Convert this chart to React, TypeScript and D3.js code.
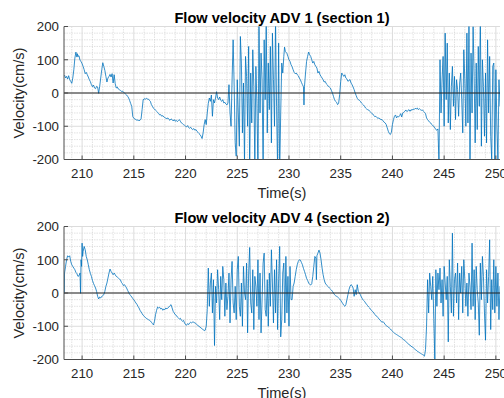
import React from 'react';
import * as d3 from 'd3';

type P = [number, number];

const xTicks = [210, 215, 220, 225, 230, 235, 240, 245, 250];
const yTicks = [-200, -100, 0, 100, 200];
const panelTitles = ['Flow velocity ADV 1 (section 1)', 'Flow velocity ADV 4 (section 2)'];
const xLabel = 'Time(s)';
const yLabel = 'Velocity(cm/s)';
const xDomain: P = [208.25, 250.4];
const yDomain: P = [-200, 200];
const noiseStep = 0.1;

// ---------- ADV 1 ----------
const adv1Smooth1: P[] = [[208.3,54],[208.4,45],[208.5,50],[208.6,42],[208.7,52],[208.8,40],[208.9,35],[209.0,29],[209.1,45],[209.2,70],[209.3,105],[209.4,123],[209.5,108],[209.55,118],[209.6,110],[209.7,112],[209.8,98],[209.9,95],[210.0,88],[210.1,80],[210.2,70],[210.3,58],[210.4,62],[210.5,55],[210.6,48],[210.7,40],[210.8,34],[210.9,25],[211.0,19],[211.1,24],[211.2,15],[211.3,13],[211.4,20],[211.5,18],[211.6,-1],[211.7,20],[211.8,45],[211.9,70],[212.0,91],[212.1,80],[212.2,68],[212.3,50],[212.4,33],[212.5,45],[212.6,50],[212.7,56],[212.8,48],[212.9,58],[213.0,30],[213.1,55],[213.2,28],[213.3,15],[213.4,18],[213.5,12],[213.6,10],[213.7,8],[213.8,5],[213.9,6],[214.0,2],[214.1,0],[214.2,-3],[214.3,-6],[214.4,-10],[214.5,-15],[214.6,-23],[214.7,-32],[214.8,-41],[214.9,-71],[215.0,-76],[215.1,-78],[215.2,-80],[215.3,-82],[215.4,-81],[215.5,-83],[215.6,-82],[215.7,-78],[215.8,-50],[215.9,-21],[216.0,-17],[216.1,-19],[216.2,-16],[216.3,-18],[216.4,-18],[216.5,-22],[216.6,-25],[216.7,-35],[216.8,-40],[216.9,-46],[217.0,-48],[217.1,-52],[217.2,-55],[217.3,-58],[217.4,-62],[217.5,-66],[217.6,-65],[217.7,-70],[217.8,-68],[217.9,-72],[218.0,-74],[218.1,-76],[218.2,-77],[218.3,-75],[218.4,-80],[218.5,-82],[218.6,-78],[218.7,-80],[218.8,-84],[218.9,-80],[219.0,-85],[219.1,-82],[219.2,-86],[219.3,-83],[219.4,-80],[219.5,-85],[219.6,-90],[219.7,-92],[219.8,-95],[219.9,-97],[220.0,-100],[220.1,-102],[220.2,-98],[220.3,-104],[220.4,-106],[220.5,-103],[220.6,-108],[220.7,-110],[220.8,-107],[220.9,-112],[221.0,-110],[221.1,-115],[221.2,-118],[221.3,-122],[221.4,-125],[221.5,-130],[221.6,-137],[221.7,-120],[221.8,-95],[221.9,-80],[222.0,-95],[222.1,-60],[222.2,-31],[222.3,-15],[222.4,-25],[222.5,-6],[222.6,-70],[222.7,-20],[222.8,-30],[222.9,-15],[223.0,4],[223.1,-15],[223.2,-20],[223.3,-12],[223.4,-22],[223.5,-25],[223.6,-20],[223.7,-30],[223.8,-28],[223.9,-33],[224.0,-36]];
const adv1Noise1Start = 224.1;
const adv1Noise1 = [-30,25,-60,-100,40,160,20,-150,-190,40,
  -60,-160,170,90,-120,30,-210,110,50,-100,
  140,-230,60,-90,130,20,-220,80,-30,-240,
  210,-60,120,40,-230,160,-20,210,-120,90,
  -50,140,-150,180,40,-100,220,-40,-230,150,
  -240,-60,90,60];
const adv1Smooth2: P[] = [[229.5,110],[229.57,138],[229.65,125],[229.8,119],[229.9,110],[230.0,100],[230.1,95],[230.2,85],[230.3,79],[230.4,70],[230.5,62],[230.6,58],[230.7,60],[230.8,55],[230.9,52],[231.0,45],[231.1,40],[231.2,32],[231.3,25],[231.4,19],[231.45,-36],[231.5,20],[231.6,60],[231.7,95],[231.8,110],[231.9,123],[232.0,115],[232.1,110],[232.2,100],[232.3,90],[232.4,95],[232.5,85],[232.6,80],[232.7,75],[232.8,60],[232.9,65],[233.0,55],[233.1,50],[233.2,45],[233.3,40],[233.4,33],[233.5,35],[233.6,28],[233.7,25],[233.8,20],[233.9,18],[234.0,15],[234.1,8],[234.2,0],[234.3,-10],[234.4,-20],[234.5,-25],[234.6,-28],[234.7,-35],[234.8,-31],[234.9,-5],[235.0,35],[235.1,60],[235.2,55],[235.3,50],[235.4,55],[235.5,45],[235.6,42],[235.7,35],[235.8,38],[235.9,40],[236.0,30],[236.1,25],[236.2,18],[236.3,10],[236.4,0],[236.5,-8],[236.6,-16],[236.7,-20],[236.8,-22],[236.9,-25],[237.0,-30],[237.1,-33],[237.2,-36],[237.3,-40],[237.4,-45],[237.5,-48],[237.6,-50],[237.7,-51],[237.8,-55],[237.9,-58],[238.0,-61],[238.1,-63],[238.2,-68],[238.3,-71],[238.4,-70],[238.5,-74],[238.6,-76],[238.7,-75],[238.8,-78],[238.9,-80],[239.0,-80],[239.1,-84],[239.2,-88],[239.3,-90],[239.4,-95],[239.5,-105],[239.6,-115],[239.7,-122],[239.8,-125],[239.9,-118],[240.0,-95],[240.1,-80],[240.2,-70],[240.3,-66],[240.4,-75],[240.5,-70],[240.6,-72],[240.7,-68],[240.8,-62],[240.9,-72],[241.0,-60],[241.1,-58],[241.2,-55],[241.3,-51],[241.4,-56],[241.5,-53],[241.6,-50],[241.7,-55],[241.8,-50],[241.9,-52],[242.0,-48],[242.1,-50],[242.2,-46],[242.3,-48],[242.4,-45],[242.5,-50],[242.6,-47],[242.7,-50],[242.8,-52],[242.9,-51],[243.0,-55],[243.1,-58],[243.2,-62],[243.3,-75],[243.4,-80],[243.5,-84],[243.6,-88],[243.7,-90],[243.8,-95],[243.9,-98],[244.0,-100],[244.1,-105],[244.2,-110],[244.3,-112],[244.4,-108]];
const adv1Noise2Start = 244.5;
const adv1Noise2 = [-210,100,-60,40,110,-100,180,-20,150,-90,
  60,-110,20,80,-40,50,-80,40,10,-70,
  30,60,-20,-120,130,40,-100,180,-90,210,
  -230,120,-60,200,50,-150,90,-110,140,-40,
  230,-160,100,20,-130,60,-150,160,-60,110,
  -130,-200,80,90,-230,70,-100,-200,40,-40];

// ---------- ADV 4 ----------
const adv4Smooth1: P[] = [[208.28,-2],[208.3,60],[208.4,80],[208.5,100],[208.6,112],[208.7,108],[208.8,112],[208.9,95],[209.0,85],[209.1,80],[209.2,75],[209.3,70],[209.4,62],[209.5,58],[209.6,50],[209.7,52],[209.8,60],[209.85,-1],[209.9,100],[209.95,80],[210.0,150],[210.05,110],[210.1,125],[210.2,140],[210.3,130],[210.4,110],[210.5,100],[210.6,85],[210.7,70],[210.8,59],[210.9,50],[211.0,38],[211.1,29],[211.2,22],[211.3,15],[211.4,5],[211.5,-10],[211.6,-18],[211.7,-12],[211.8,-15],[211.9,-10],[212.0,-8],[212.1,-5],[212.2,5],[212.3,20],[212.4,30],[212.5,45],[212.6,60],[212.7,72],[212.8,65],[212.9,60],[213.0,55],[213.1,60],[213.2,55],[213.3,50],[213.4,48],[213.5,45],[213.6,42],[213.7,40],[213.8,32],[213.9,28],[214.0,22],[214.1,25],[214.2,20],[214.3,15],[214.4,8],[214.5,2],[214.6,-4],[214.7,-8],[214.8,-12],[214.9,-17],[215.0,-20],[215.1,-25],[215.2,-30],[215.3,-34],[215.4,-40],[215.5,-45],[215.6,-52],[215.7,-57],[215.8,-62],[215.9,-67],[216.0,-70],[216.1,-73],[216.2,-76],[216.3,-78],[216.4,-80],[216.5,-82],[216.6,-84],[216.7,-88],[216.8,-92],[216.9,-96],[217.0,-85],[217.1,-65],[217.2,-52],[217.3,-42],[217.4,-45],[217.5,-43],[217.6,-48],[217.7,-46],[217.8,-52],[217.9,-48],[218.0,-50],[218.1,-45],[218.2,-48],[218.3,-44],[218.4,-42],[218.5,-38],[218.6,-35],[218.7,-45],[218.8,-55],[218.9,-60],[219.0,-65],[219.1,-67],[219.2,-72],[219.3,-75],[219.4,-78],[219.5,-76],[219.6,-82],[219.7,-85],[219.8,-82],[219.9,-90],[220.0,-95],[220.1,-97],[220.2,-92],[220.3,-95],[220.4,-90],[220.5,-88],[220.6,-90],[220.7,-87],[220.8,-88],[220.9,-90],[221.0,-92],[221.1,-95],[221.2,-98],[221.3,-100],[221.4,-103],[221.5,-105],[221.6,-108],[221.7,-110],[221.8,-113],[221.9,-112],[222.0,-100],[222.1,-50]];
const adv4Noise1Start = 222.2;
const adv4Noise1 = [75,-40,30,60,-60,40,-158,20,-30,70,
  10,-80,50,-20,80,40,-70,30,-50,-10,
  60,-90,40,95,-30,-60,20,-80,70,110,
  -40,-70,30,-100,80,0,-20,90,-120,60,
  137,-30,-60,70,-110,50,20,-40,100,-80,
  60,-120,-20,90,120,-50,-70,40,-100,60,
  -40,130,30,-90,70,-60,100,-110,40,140,
  -132,-80,60,90,-90,110,-60,50,-100,80,
  -20];
const adv4Smooth2: P[] = [[230.3,-20],[230.4,20],[230.5,30],[230.6,50],[230.7,70],[230.8,85],[230.9,95],[231.0,100],[231.1,99],[231.2,92],[231.3,85],[231.4,74],[231.5,65],[231.6,55],[231.7,44],[231.8,38],[231.9,30],[232.0,26],[232.1,24],[232.2,28],[232.3,50],[232.4,80],[232.5,110],[232.6,105],[232.65,40],[232.7,112],[232.8,120],[232.9,129],[233.0,120],[233.1,100],[233.2,75],[233.3,55],[233.4,40],[233.5,30],[233.6,25],[233.7,22],[233.8,19],[233.9,15],[234.0,12],[234.1,9],[234.2,5],[234.3,0],[234.4,-5],[234.5,-8],[234.6,-10],[234.7,-12],[234.8,-15],[234.9,-18],[235.0,-22],[235.1,-27],[235.2,-32],[235.3,-37],[235.4,-40],[235.5,-35],[235.6,-20],[235.7,-5],[235.8,10],[235.9,20],[236.0,25],[236.1,22],[236.2,15],[236.3,-10],[236.4,10],[236.5,-5],[236.6,25],[236.7,5],[236.8,0],[236.9,-5],[237.0,-12],[237.1,-18],[237.2,-22],[237.3,-25],[237.4,-30],[237.5,-34],[237.6,-38],[237.7,-42],[237.8,-45],[237.9,-50],[238.0,-53],[238.1,-56],[238.2,-60],[238.3,-65],[238.4,-68],[238.5,-70],[238.6,-74],[238.7,-78],[238.8,-82],[238.9,-85],[239.0,-88],[239.1,-86],[239.2,-90],[239.3,-95],[239.4,-98],[239.5,-100],[239.6,-103],[239.7,-105],[239.8,-108],[239.9,-112],[240.0,-115],[240.1,-118],[240.2,-121],[240.3,-123],[240.4,-125],[240.5,-127],[240.6,-129],[240.7,-131],[240.8,-133],[240.9,-135],[241.0,-138],[241.1,-141],[241.2,-143],[241.3,-146],[241.4,-149],[241.5,-152],[241.6,-155],[241.7,-157],[241.8,-160],[241.9,-162],[242.0,-164],[242.1,-167],[242.2,-170],[242.3,-172],[242.4,-175],[242.5,-177],[242.6,-179],[242.7,-181],[242.8,-183],[242.9,-185],[243.0,-187],[243.1,-190],[243.2,-170]];
const adv4Noise2Start = 243.3;
const adv4Noise2 = [-100,40,-60,60,20,-20,50,-80,-200,70,
  -40,60,10,75,-30,40,-70,80,30,-20,
  50,-147,100,20,-60,180,-70,40,60,-30,
  90,-80,60,0,80,-60,100,40,-40,30,
  -70,60,20,-50,150,-40,70,-80,80,10,
  -30,-127,90,-20,110,50,-60,-142,70,-30,
  50,160,-110,40,-50,100,-60,80,-40,60,
  -80,20];

const sampled = (start: number, vals: number[]): P[] => vals.map((v, i) => [start + i * noiseStep, v]);

const adv1: P[] = [...adv1Smooth1, ...sampled(adv1Noise1Start, adv1Noise1), ...adv1Smooth2, ...sampled(adv1Noise2Start, adv1Noise2)];
const adv4: P[] = [...adv4Smooth1, ...sampled(adv4Noise1Start, adv4Noise1), ...adv4Smooth2, ...sampled(adv4Noise2Start, adv4Noise2)];

const FONT = '"Liberation Sans", Arial, Helvetica, sans-serif';
const TEXT = '#262626';

function Panel({ data, title, top, id }: { data: P[]; title: string; top: number; id: string }) {
  const left = 64, right = 500, h = 133;
  const x = d3.scaleLinear().domain(xDomain).range([left, right]);
  const y = d3.scaleLinear().domain(yDomain).range([top + h, top]);
  const line = d3.line<P>().x(d => x(d[0])).y(d => y(d[1]));
  const minorX = d3.range(209, 251, 1).filter(t => t % 5 !== 0 && t <= xDomain[1]);
  const minorY = d3.range(-180, 200, 20).filter(v => v % 100 !== 0);
  const bottom = top + h;
  return (
    <g>
      <defs>
        <clipPath id={id}>
          <rect x={left} y={top} width={right - left} height={h} />
        </clipPath>
      </defs>
      {minorX.map(t => (
        <line key={'mx' + t} x1={x(t)} x2={x(t)} y1={top} y2={bottom} stroke="#cfcfcf" strokeWidth={0.6} strokeDasharray="1.5,1" />
      ))}
      {minorY.map(v => (
        <line key={'my' + v} x1={left} x2={right} y1={y(v)} y2={y(v)} stroke="#cfcfcf" strokeWidth={0.6} strokeDasharray="1.5,1" />
      ))}
      {xTicks.map(t => (
        <line key={'gx' + t} x1={x(t)} x2={x(t)} y1={top} y2={bottom} stroke="#dcdcdc" strokeWidth={1} />
      ))}
      {yTicks.map(v => (
        <line key={'gy' + v} x1={left} x2={right} y1={y(v)} y2={y(v)} stroke="#dcdcdc" strokeWidth={1} />
      ))}
      <path d={line(data) || ''} fill="none" stroke="#0072BD" strokeWidth={0.8} clipPath={`url(#${id})`} />
      <line x1={left} x2={right} y1={y(0)} y2={y(0)} stroke="#262626" strokeWidth={1} />
      <line x1={left} x2={left} y1={top} y2={bottom} stroke="#4d4d4d" strokeWidth={1} />
      <line x1={left} x2={right} y1={bottom} y2={bottom} stroke="#4d4d4d" strokeWidth={1} />
      {xTicks.map(t => (
        <g key={'xt' + t}>
          <line x1={x(t)} x2={x(t)} y1={bottom} y2={bottom - 4} stroke="#4d4d4d" strokeWidth={1} />
          <text x={x(t)} y={bottom + 18.5} textAnchor="middle" fontFamily={FONT} fontSize={13.3} fill={TEXT}>{t}</text>
        </g>
      ))}
      {yTicks.map(v => (
        <g key={'yt' + v}>
          <line x1={left} x2={left + 4} y1={y(v)} y2={y(v)} stroke="#4d4d4d" strokeWidth={1} />
          <text x={left - 5} y={y(v) + 4.8} textAnchor="end" fontFamily={FONT} fontSize={13.3} fill={TEXT}>{v}</text>
        </g>
      ))}
      <text x={(left + right) / 2} y={top - 3.5} textAnchor="middle" fontFamily={FONT} fontSize={14.6} fontWeight="bold" fill="#000">{title}</text>
      <text x={(left + right) / 2} y={bottom + 38.5} textAnchor="middle" fontFamily={FONT} fontSize={14.6} fill={TEXT}>{xLabel}</text>
      <text transform={`translate(24,${top + h / 2}) rotate(-90)`} textAnchor="middle" fontFamily={FONT} fontSize={14.6} fill={TEXT}>{yLabel}</text>
    </g>
  );
}

export default function App() {
  return (
    <svg width={504} height={398} style={{ position: 'absolute', left: 0, top: 0, background: '#fff' }}>
      <rect x={0} y={0} width={504} height={398} fill="#fff" />
      <Panel data={adv1} title={panelTitles[0]} top={26.5} id="clip1" />
      <Panel data={adv4} title={panelTitles[1]} top={226.5} id="clip2" />
    </svg>
  );
}
